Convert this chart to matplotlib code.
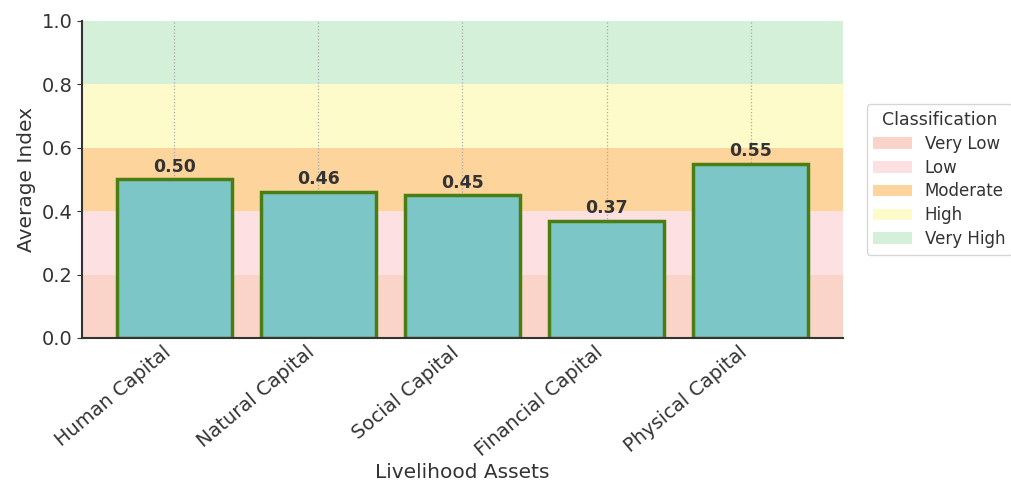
import matplotlib
matplotlib.use("Agg")
import matplotlib.pyplot as plt
from matplotlib.patches import Patch

# Average index per livelihood asset
assets = ["Human Capital", "Natural Capital", "Social Capital", "Financial Capital", "Physical Capital"]
index_values = [0.50, 0.46, 0.45, 0.37, 0.55]

# Classification bands (lower, upper, label, colour)
band_labels = ["Very Low", "Low", "Moderate", "High", "Very High"]
band_edges = [0.0, 0.2, 0.4, 0.6, 0.8, 1.0]
band_colors = ["#fad3c9", "#fde0e1", "#fdd49b", "#fefbca", "#d5f0d8"]

fig = plt.figure(figsize=(10.11, 4.88), dpi=100)
ax = fig.add_axes([0.0811, 0.3074, 0.7527, 0.6496])

for i, lab in enumerate(band_labels):
    ax.axhspan(band_edges[i], band_edges[i + 1], color=band_colors[i], zorder=0, lw=0)

ax.grid(axis="x", linestyle=":", color="#aaaaaa", linewidth=0.9, zorder=1)

bars = ax.bar(assets, index_values, width=0.8, color="#7cc6c8",
              edgecolor="#4a7d12", linewidth=2.5, zorder=2)

for b, v in zip(bars, index_values):
    ax.text(b.get_x() + b.get_width() / 2, v + 0.012, f"{v:.2f}",
            ha="center", va="bottom", fontsize=12.5, fontweight="bold", color="#333333")

ax.set_ylim(0, 1.0)
ax.set_yticks([0.0, 0.2, 0.4, 0.6, 0.8, 1.0])
ax.tick_params(axis="y", labelsize=14, colors="#333333")
ax.tick_params(axis="x", labelsize=14, colors="#333333", length=0)
plt.setp(ax.get_xticklabels(), rotation=40, ha="right")
ax.set_ylabel("Average Index", fontsize=14.5, color="#333333")
ax.set_xlabel("Livelihood Assets", fontsize=14.5, color="#333333")
ax.xaxis.set_label_coords(0.5, -0.395)

for s in ["top", "right"]:
    ax.spines[s].set_visible(False)
ax.spines["left"].set_color("#333333")
ax.spines["bottom"].set_color("#333333")
ax.spines["left"].set_linewidth(1.5)
ax.spines["bottom"].set_linewidth(1.5)

handles = [Patch(facecolor=c, edgecolor="none") for c in band_colors]
leg = ax.legend(handles, band_labels, title="Classification", loc="center left",
                bbox_to_anchor=(1.02, 0.5), fontsize=12, title_fontsize=12.5,
                frameon=True, edgecolor="#cccccc", handlelength=2.3,
                handletextpad=0.8, labelspacing=0.35)
for t in leg.get_texts():
    t.set_color("#333333")
leg.get_title().set_color("#333333")

fig.savefig("out.png", dpi=100)
